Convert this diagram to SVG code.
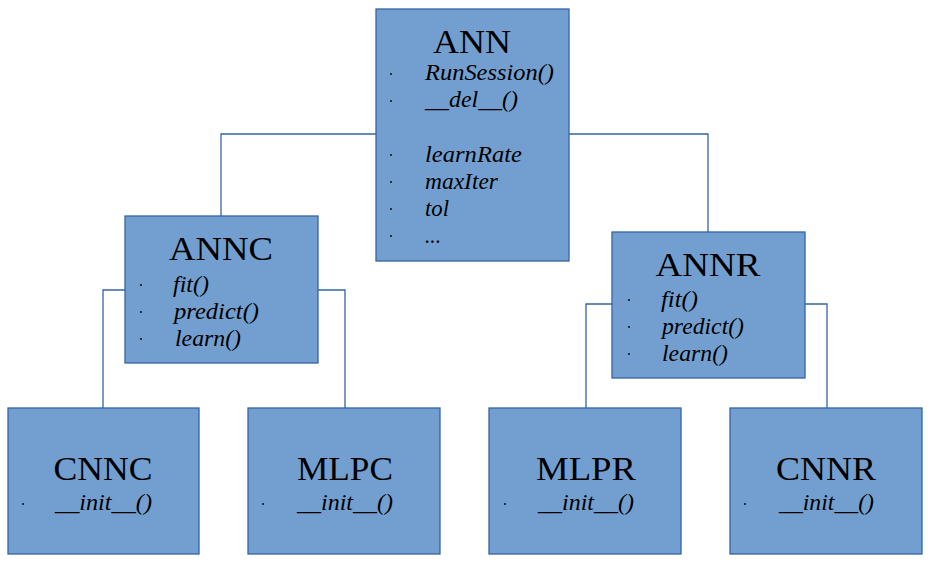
<svg xmlns="http://www.w3.org/2000/svg" width="931" height="569" viewBox="0 0 931 569">
<style>
.box{fill:#729fcf;stroke:#3465a4;stroke-width:1.3}
.t{font-family:"Liberation Serif","Times New Roman",serif;font-size:33px;fill:#000;text-anchor:middle}
.i{font-family:"Liberation Serif","Times New Roman",serif;font-size:24px;font-style:italic;fill:#000}
.b{fill:#000}
.c{fill:none;stroke:#3465a4;stroke-width:1.3}
</style>
<rect width="931" height="569" fill="#fff"/>
<g id="connectors">
<polyline class="c" points="376,134 221,134 221,216"/>
<polyline class="c" points="569,134 708,134 708,232"/>
<polyline class="c" points="125,290 103,290 103,408"/>
<polyline class="c" points="318,290 345,290 345,408"/>
<polyline class="c" points="612,304 586,304 586,408"/>
<polyline class="c" points="805,304 827,304 827,408"/>
</g>
<g id="ANN">
<rect class="box" x="376" y="9" width="193" height="252"/>
<text class="t" x="472" y="53" textLength="78" lengthAdjust="spacingAndGlyphs">ANN</text>
<circle class="b" cx="391" cy="74" r="0.9"/><text class="i" x="425" y="80" textLength="129" lengthAdjust="spacingAndGlyphs">RunSession()</text>
<circle class="b" cx="391" cy="101" r="0.9"/><text class="i" x="425" y="107" textLength="93" lengthAdjust="spacingAndGlyphs">__del__()</text>
<circle class="b" cx="391" cy="155" r="0.9"/><text class="i" x="425" y="162" textLength="97" lengthAdjust="spacingAndGlyphs">learnRate</text>
<circle class="b" cx="391" cy="182" r="0.9"/><text class="i" x="425" y="189" textLength="73" lengthAdjust="spacingAndGlyphs">maxIter</text>
<circle class="b" cx="391" cy="209" r="0.9"/><text class="i" x="425" y="216" textLength="24" lengthAdjust="spacingAndGlyphs">tol</text>
<circle class="b" cx="391" cy="236" r="0.9"/><text class="i" x="425" y="243" textLength="16" lengthAdjust="spacingAndGlyphs">...</text>
</g>
<g id="ANNC">
<rect class="box" x="125" y="216" width="193" height="147"/>
<text class="t" x="221" y="260" textLength="104" lengthAdjust="spacingAndGlyphs">ANNC</text>
<circle class="b" cx="141" cy="285" r="0.9"/><text class="i" x="173" y="292" textLength="36" lengthAdjust="spacingAndGlyphs">fit()</text>
<circle class="b" cx="141" cy="312" r="0.9"/><text class="i" x="174" y="319" textLength="85" lengthAdjust="spacingAndGlyphs">predict()</text>
<circle class="b" cx="141" cy="339" r="0.9"/><text class="i" x="175" y="346" textLength="66" lengthAdjust="spacingAndGlyphs">learn()</text>
</g>
<g id="ANNR">
<rect class="box" x="612" y="232" width="193" height="146"/>
<text class="t" x="708" y="276" textLength="105" lengthAdjust="spacingAndGlyphs">ANNR</text>
<circle class="b" cx="629" cy="300" r="0.9"/><text class="i" x="661" y="307" textLength="37" lengthAdjust="spacingAndGlyphs">fit()</text>
<circle class="b" cx="629" cy="327" r="0.9"/><text class="i" x="662" y="334" textLength="82" lengthAdjust="spacingAndGlyphs">predict()</text>
<circle class="b" cx="629" cy="354" r="0.9"/><text class="i" x="662" y="361" textLength="66" lengthAdjust="spacingAndGlyphs">learn()</text>
</g>
<g id="CNNC">
<rect class="box" x="8" y="408" width="191" height="146"/>
<text class="t" x="103" y="480" textLength="99" lengthAdjust="spacingAndGlyphs">CNNC</text>
<circle class="b" cx="23" cy="504" r="0.9"/><text class="i" x="55" y="510" textLength="97" lengthAdjust="spacingAndGlyphs">__init__()</text>
</g>
<g id="MLPC">
<rect class="box" x="248" y="408" width="192" height="146"/>
<text class="t" x="345" y="480" textLength="96" lengthAdjust="spacingAndGlyphs">MLPC</text>
<circle class="b" cx="263" cy="504" r="0.9"/><text class="i" x="297" y="510" textLength="96" lengthAdjust="spacingAndGlyphs">__init__()</text>
</g>
<g id="MLPR">
<rect class="box" x="489" y="408" width="192" height="146"/>
<text class="t" x="586" y="480" textLength="100" lengthAdjust="spacingAndGlyphs">MLPR</text>
<circle class="b" cx="505" cy="504" r="0.9"/><text class="i" x="538" y="510" textLength="96" lengthAdjust="spacingAndGlyphs">__init__()</text>
</g>
<g id="CNNR">
<rect class="box" x="730" y="408" width="192" height="146"/>
<text class="t" x="826" y="480" textLength="100" lengthAdjust="spacingAndGlyphs">CNNR</text>
<circle class="b" cx="745" cy="504" r="0.9"/><text class="i" x="779" y="510" textLength="95" lengthAdjust="spacingAndGlyphs">__init__()</text>
</g>
</svg>
